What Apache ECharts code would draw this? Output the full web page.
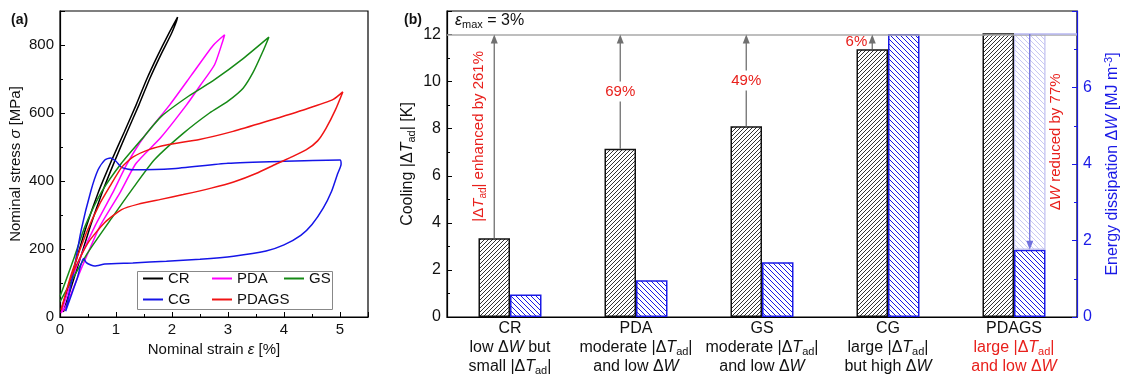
<!DOCTYPE html>
<html>
<head>
<meta charset="utf-8">
<script src="https://cdn.jsdelivr.net/npm/echarts@6/dist/echarts.min.js"></script>
<style>
html, body { margin: 0; padding: 0; background: #fff; }
#chart { width: 1126px; height: 376px; }
</style>
</head>
<body>
<div id="chart"></div>
<script>
// (a) stress-strain loops, [strain %, stress MPa], loading then unloading
const crLoop = [[0.02,20],[0.25,145],[0.47,266],[0.68,365],[0.92,460],[1.15,545],[1.36,624],[1.55,700],[1.75,771],[1.93,830],[2.1,882],
  [2.08,870],[1.98,830],[1.8,771],[1.6,700],[1.41,624],[1.2,545],[0.98,460],[0.75,365],[0.54,266],[0.3,140],[0.06,15]];
const pdaLoop = [[0.02,12],[0.3,150],[0.62,266],[0.94,365],[1.19,448],[1.5,530],[1.96,624],[2.35,712],[2.73,798],[2.94,830],
  [2.9,808],[2.76,742],[2.5,680],[2.26,624],[1.8,528],[1.36,452],[1.07,365],[0.71,266],[0.4,150],[0.1,30],[0.02,12]];
const gsLoop = [[0.0,60],[0.26,178],[0.45,268],[0.75,370],[1.1,453],[1.45,521],[1.81,590],[2.3,650],[2.76,698],[3.27,760],[3.73,823],
  [3.62,780],[3.45,720],[3.27,673],[3.0,635],[2.67,600],[2.2,540],[1.69,463],[1.33,385],[0.92,290],[0.5,190],[0.2,105],[0.0,45]];
const cgLoop = [[0.1,17],[0.25,140],[0.38,257],[0.55,370],[0.68,433],[0.8,462],[0.9,468],[1.0,458],[1.1,440],[1.3,433],[2.0,436],[3.0,452],[4.0,458],[5.0,462],
  [5.02,450],[4.95,418],[4.85,370],[4.7,320],[4.5,272],[4.3,240],[4.0,212],[3.68,194],[3.1,179],[2.5,170],[1.9,164],[1.3,159],[0.8,156],[0.62,150],[0.55,153],[0.47,160],[0.42,172],[0.3,110],[0.1,17]];
const pdagsLoop = [[0.02,20],[0.2,125],[0.47,247],[0.7,330],[0.89,384],[1.1,440],[1.3,470],[1.6,493],[1.9,506],[2.49,522],[3.09,546],[3.68,575],[4.4,612],[4.88,640],[5.05,662],
  [4.92,610],[4.75,555],[4.6,518],[4.4,492],[4.1,468],[3.86,450],[3.5,422],[3.1,397],[2.7,379],[2.2,360],[1.8,346],[1.4,332],[1.1,316],[0.8,278],[0.5,218],[0.2,119],[0.02,22]];

// (b) cooling and energy dissipation
const samples = ['CR', 'PDA', 'GS', 'CG', 'PDAGS'];
const notes = [
  ['low ΔW but', 'small |ΔT_ad|'],
  ['moderate |ΔT_ad|', 'and low ΔW'],
  ['moderate |ΔT_ad|', 'and low ΔW'],
  ['large |ΔT_ad|', 'but high ΔW'],
  ['large |ΔT_ad|', 'and low ΔW']
];
const coolingK = [3.35, 7.15, 8.1, 11.38, 12.05];
const dissipation = [0.59, 0.96, 1.43, 7.4, 1.76];
const gains = ['261%', '69%', '49%', '6%'];
const coolingRef = 12;
const dissipationCut = '77%';

const FONT = 'Liberation Sans, Arial, sans-serif';
const RED = '#e8201c';
const BLUE = '#1a1ae6';
const INK = '#111';

function richSet(color, size, prefix) {
  size = size || 15;
  prefix = prefix || '';
  const lh = Math.round(size * 1.2);
  const base = { fontFamily: FONT, fontSize: size, lineHeight: lh, color: color, fill: color };
  const out = {};
  out[prefix + 'n'] = base;
  out[prefix + 'i'] = Object.assign({}, base, { fontStyle: 'italic' });
  out[prefix + 's'] = { fontFamily: FONT, fontSize: Math.round(size * 0.68), color: color, fill: color, verticalAlign: 'bottom' };
  out[prefix + 'p'] = { fontFamily: FONT, fontSize: Math.round(size * 0.68), color: color, fill: color, verticalAlign: 'top' };
  return out;
}

// plain text -> rich text with italic symbols and subscripts
function fmt(text, red) {
  const p = red ? 'r' : '';
  return text.split(/(ΔT_ad|ΔW|ε_max|\^-3|σ|ε)/).filter(Boolean).map(function (seg) {
    if (seg === 'ΔT_ad') return '{' + p + 'n|Δ}{' + p + 'i|T}{' + p + 's|ad}';
    if (seg === 'ΔW') return '{' + p + 'n|Δ}{' + p + 'i|W}';
    if (seg === 'ε_max') return '{' + p + 'i|ε}{' + p + 's|max}';
    if (seg === '^-3') return '{' + p + 'p|-3}';
    if (seg === 'σ' || seg === 'ε') return '{' + p + 'i|' + seg + '}';
    return '{' + p + 'n|' + seg + '}';
  }).join('');
}

const RICH_INK = Object.assign({}, richSet(INK, 15), richSet(RED, 15, 'r'));
const RICH_B = Object.assign({}, richSet(INK, 16), richSet(RED, 16, 'r'));
const RICH_BLUE = richSet(BLUE, 16);

function hatch(color, size, dir) {
  const c = document.createElement('canvas');
  c.width = c.height = size;
  const g = c.getContext('2d');
  g.fillStyle = '#fff';
  g.fillRect(0, 0, size, size);
  g.strokeStyle = color;
  g.lineWidth = 1;
  g.beginPath();
  for (let k = -1; k <= 1; k++) {
    if (dir > 0) { g.moveTo(k * size, size); g.lineTo(k * size + size, 0); }
    else { g.moveTo(k * size, 0); g.lineTo(k * size + size, size); }
  }
  g.stroke();
  return c;
}

function arrowHead(x, y, up, color) {
  const d = up ? 1 : -1;
  return { type: 'polygon', shape: { points: [[x, y], [x - 3.5, y + 9 * d], [x + 3.5, y + 9 * d]] }, style: { fill: color } };
}

function redText(str, x, y, rotate, align, bg) {
  return {
    type: 'text', x: x, y: y, rotation: rotate ? Math.PI / 2 : 0,
    style: {
      text: fmt(str, true), rich: RICH_INK,
      align: align, textAlign: align, verticalAlign: 'middle', textVerticalAlign: 'middle',
      backgroundColor: bg || null, padding: bg ? [1, 1] : 0
    }
  };
}

function upArrows(params, api) {
  const i = api.value(0);
  const v = api.value(1);
  const band = api.size([1, 0])[0];
  const p = api.coord([i, v]);
  const x = p[0] - band * 0.125;
  const yBar = p[1];
  const yTop = api.coord([i, coolingRef])[1];
  const yMid = (yBar + yTop) / 2;
  const gray = '#707070';
  const kids = [
    { type: 'line', shape: { x1: x, y1: yBar, x2: x, y2: yTop + 8 }, style: { stroke: gray, lineWidth: 1.3 } },
    arrowHead(x, yTop, true, gray)
  ];
  if (i === 0) kids.push(redText('|ΔT_ad| enhanced by ' + gains[i], x - 15, yMid, true, 'center'));
  else if (i === 3) kids.push(redText(gains[i], x - 5, yMid, false, 'right'));
  else kids.push(redText(gains[i], x, yMid, false, 'center', '#fff'));
  return { type: 'group', children: kids };
}

function downArrow(params, api) {
  const i = api.value(0);
  const hi = api.value(1);
  const lo = api.value(2);
  const band = api.size([1, 0])[0];
  const c = api.coord([i, hi]);
  const x = c[0] + band * 0.125;
  const yHi = c[1];
  const yLo = api.coord([i, lo])[1];
  const col = '#7070dd';
  return {
    type: 'group',
    children: [
      { type: 'line', shape: { x1: c[0], y1: yHi, x2: c[0] + band / 2, y2: yHi }, style: { stroke: '#b8b8f2', lineWidth: 1.5 } },
      { type: 'line', shape: { x1: x, y1: yHi, x2: x, y2: yLo - 8 }, style: { stroke: col, lineWidth: 1.3 } },
      arrowHead(x, yLo, false, col),
      redText('ΔW reduced by ' + dissipationCut, x + 26, (yHi + yLo) / 2, true, 'center')
    ]
  };
}

function valueAxis(grid, max, step, color, size, extra) {
  return Object.assign({
    type: 'value', gridIndex: grid, min: 0, max: max, interval: step,
    axisLine: { show: true, lineStyle: { color: color, width: 1.2 } },
    axisTick: { show: true, inside: true, length: 5, lineStyle: { color: color } },
    minorTick: { show: true, splitNumber: 2, length: 3, lineStyle: { color: color } },
    axisLabel: { color: color === '#000' ? INK : color, fontSize: size, fontFamily: FONT, margin: 6, showMaxLabel: false },
    splitLine: { show: false },
    nameLocation: 'middle', nameRotate: 90
  }, extra);
}

const loops = [['CR', crLoop, '#000'], ['PDA', pdaLoop, '#ff00ff'], ['GS', gsLoop, '#168a16'], ['CG', cgLoop, '#1515e8'], ['PDAGS', pdagsLoop, '#f01414']];

const option = {
  animation: false,
  textStyle: { fontFamily: FONT },
  title: [
    { text: '(a)', left: 6, top: 8, textStyle: { fontSize: 14, fontWeight: 'bold', fontFamily: FONT, color: INK } },
    { text: '(b)', left: 399, top: 8, textStyle: { fontSize: 14, fontWeight: 'bold', fontFamily: FONT, color: INK } }
  ],
  grid: [
    { left: 60, top: 11, width: 308, height: 306, show: true, borderColor: '#000', borderWidth: 1.2, outerBoundsMode: 'none' },
    { left: 447, top: 11, width: 630, height: 306, show: true, borderColor: '#000', borderWidth: 1.2, outerBoundsMode: 'none' }
  ],
  legend: [
    { data: ['CR', 'CG'], left: 143, top: 271 },
    { data: ['PDA', 'PDAGS'], left: 212, top: 271 },
    { data: ['GS'], left: 284, top: 271 }
  ].map(function (l) {
    return Object.assign(l, { orient: 'vertical', icon: 'rect', itemWidth: 20, itemHeight: 2, itemGap: 6, padding: 0,
      textStyle: { fontSize: 15, fontFamily: FONT, color: INK, padding: [0, 0, 0, 0] } });
  }),
  graphic: [
    { type: 'rect', left: 135, top: 269, shape: { width: 195, height: 38 }, style: { fill: 'none', stroke: '#888', lineWidth: 1 }, silent: true }
  ],
  xAxis: [
    {
      type: 'value', gridIndex: 0, min: 0, max: 5.5, interval: 1,
      axisLine: { lineStyle: { color: '#000', width: 1.2 } },
      axisTick: { inside: true, length: 5, lineStyle: { color: '#000' } },
      minorTick: { show: true, splitNumber: 2, length: 3, lineStyle: { color: '#000' } },
      axisLabel: { color: INK, fontSize: 15, fontFamily: FONT, margin: 5, showMaxLabel: false },
      splitLine: { show: false },
      name: fmt('Nominal strain ε [%]'), nameLocation: 'middle', nameGap: 24,
      nameTextStyle: { rich: RICH_INK }
    },
    {
      type: 'category', gridIndex: 1, data: samples,
      axisTick: { show: false },
      axisLine: { lineStyle: { color: '#000', width: 1.2 } },
      axisLabel: {
        interval: 0, margin: 2, rich: RICH_B,
        formatter: function (v, idx) {
          const red = v === 'PDAGS';
          return fmt(v) + '\n' + fmt(notes[idx][0], red) + '\n' + fmt(notes[idx][1], red);
        }
      }
    }
  ],
  yAxis: [
    valueAxis(0, 900, 200, '#000', 15, { name: fmt('Nominal stress σ [MPa]'), nameGap: 35, nameMoveOverlap: false, nameTextStyle: { rich: RICH_INK } }),
    valueAxis(1, 13, 2, '#000', 16, { name: fmt('Cooling |ΔT_ad| [K]'), nameGap: 30, nameMoveOverlap: false, nameTextStyle: { rich: RICH_B } }),
    valueAxis(1, 8, 2, BLUE, 16, { position: 'right', name: fmt('Energy dissipation ΔW [MJ m^-3]'), nameGap: 26, nameTextStyle: { rich: RICH_BLUE } })
  ],
  series: loops.map(function (d) {
    return { name: d[0], type: 'line', xAxisIndex: 0, yAxisIndex: 0, data: d[1], showSymbol: false, smooth: 0.2,
      lineStyle: { color: d[2], width: 1.5 }, itemStyle: { color: d[2] } };
  }).concat([
    {
      name: 'cooling', type: 'bar', xAxisIndex: 1, yAxisIndex: 1, data: coolingK, barWidth: '25%', barGap: '0%',
      itemStyle: { color: { image: hatch('#333', 4, 1), repeat: 'repeat' }, borderColor: '#111', borderWidth: 1.5 },
      markLine: {
        silent: true, symbol: 'none', lineStyle: { color: '#a8a8a8', width: 1.5, type: 'solid' },
        data: [{ yAxis: coolingRef }],
        label: { show: true, position: 'insideStartTop', distance: [8, 4], formatter: fmt('ε_max = 3%'), rich: RICH_B }
      }
    },
    {
      name: 'dissipation', type: 'bar', xAxisIndex: 1, yAxisIndex: 2, data: dissipation, stack: 'w', barWidth: '25%', barGap: '0%',
      itemStyle: { color: { image: hatch(BLUE, 5, -1), repeat: 'repeat' }, borderColor: BLUE, borderWidth: 1.5 }
    },
    {
      name: 'reduced', type: 'bar', xAxisIndex: 1, yAxisIndex: 2, stack: 'w', barWidth: '25%', barGap: '0%',
      data: dissipation.map(function (v, i) { return i === 4 ? dissipation[3] - v : '-'; }),
      itemStyle: { color: { image: hatch('#c8c8f4', 5, -1), repeat: 'repeat' }, borderColor: '#c0c0f0', borderWidth: 1.2 }
    },
    {
      type: 'custom', xAxisIndex: 1, yAxisIndex: 1, renderItem: upArrows, z: 5,
      data: coolingK.slice(0, 4).map(function (v, i) { return [i, v]; })
    },
    {
      type: 'custom', xAxisIndex: 1, yAxisIndex: 2, renderItem: downArrow, z: 5,
      data: [[4, dissipation[3], dissipation[4]]]
    }
  ])
};

const chart = echarts.init(document.getElementById('chart'));
chart.setOption(option);
</script>
</body>
</html>
